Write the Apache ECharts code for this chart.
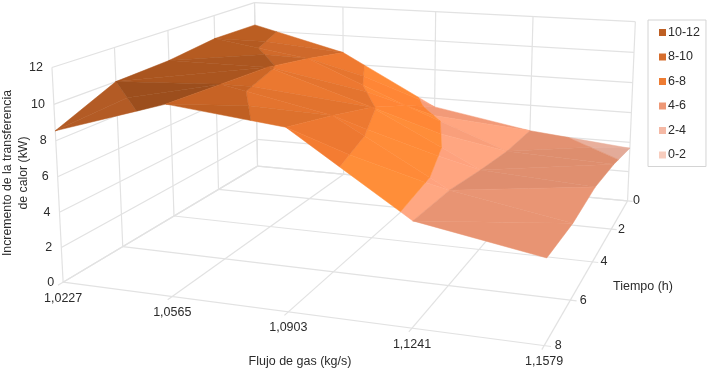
<!DOCTYPE html>
<html>
<head>
<meta charset="utf-8">
<style>html,body{margin:0;padding:0;background:#fff}#c{width:715px;height:373px}</style>
<script src="https://cdn.jsdelivr.net/npm/echarts@6/dist/echarts.min.js"></script>
</head>
<body>
<div id="c"></div>
<script>
// ---- data ----
const gasFlow = ['1,0227','1,0565','1,0903','1,1241','1,1579'];
const timeH = ['0','2','4','6','8'];
const zTicks = [0,2,4,6,8,10,12];
const t0h = [10.4, 8.8, 5.4, 4.25, 3.6];
const t2h = [10.45, 9.5, 6.85, 4.4, 4.15];
const t4h = [10.1, 10.1, 8.1, 4.85, 4.45];
const t6h = [10.0, 10.3, 9.0, 5.4, 4.25];
const t8h = [8.55, 10.5, 9.8, 5.6, 4.45];
const heat = [t0h, t2h, t4h, t6h, t8h];
const bandNames = ['10-12','8-10','6-8','4-6','2-4','0-2'];
const bandLow = [10,8,6,4,2,0];
const bandColors = ['#be5f23','#d66d2c','#ee7c32','#ee9876','#f5b9a5','#f8cdbe'];
const bandGain = [.95,.97,.975,.935,.93,1];

// ---- camera: view calibration of the box (u,v,w in 0..1) ----
const camera = [
 [0,1,0,64,282],[0,1,1,52,66],[1,1,0,543,346],[1,0,0,627,200],[1,0,1,636,22],[0,0,1,255,3],[0,0,0,258,165],
 [.25,1,0,173,297],[.5,1,0,288,312],[.75,1,0,412,329],[0,.75,0,123,247],[0,.5,0,173,217],[0,.25,0,218,190],
 [1,.75,0,570,300],[1,.5,0,592,262],[1,.25,0,613,228],[.25,0,1,343,8],[.5,0,1,435,12],[.75,0,1,533,17],
 [0,.75,1,115,47],[0,.5,1,168,30],[0,.25,1,213,15]];
function solve(A,b){const n=b.length;const M=A.map((r,i)=>r.concat(b[i]));
 for(let i=0;i<n;i++){let p=i;for(let k=i+1;k<n;k++)if(Math.abs(M[k][i])>Math.abs(M[p][i]))p=k;
  [M[i],M[p]]=[M[p],M[i]];
  for(let k=i+1;k<n;k++){const f=M[k][i]/M[i][i];for(let j=i;j<=n;j++)M[k][j]-=f*M[i][j];}}
 const x=new Array(n);for(let i=n-1;i>=0;i--){let s=M[i][n];for(let j=i+1;j<n;j++)s-=M[i][j]*x[j];x[i]=s/M[i][i];}
 return x;}
const P=(function(){const N=11;const A=[...Array(N)].map(()=>new Array(N).fill(0));const B=new Array(N).fill(0);
 function add(r,v){for(let i=0;i<N;i++){B[i]+=r[i]*v;for(let j=0;j<N;j++)A[i][j]+=r[i]*r[j];}}
 camera.forEach(([X,Y,Z,a,b])=>{add([X,Y,Z,1,0,0,0,0,-a*X,-a*Y,-a*Z],a);add([0,0,0,0,X,Y,Z,1,-b*X,-b*Y,-b*Z],b);});
 return solve(A,B);})();
// xi: gas index 0..4, ti: time index 0..4, z: kW
function project(xi,ti,z){const X=xi/4,Y=ti/4,Z=z/12;const w=P[8]*X+P[9]*Y+P[10]*Z+1;
 return [(P[0]*X+P[1]*Y+P[2]*Z+P[3])/w,(P[4]*X+P[5]*Y+P[6]*Z+P[7])/w];}

const FONT='"Liberation Sans", Arial, sans-serif';
const GRID='#e2e2e2';
function textEl(api,pt,text,dx,dy,opt){const c=api.coord(pt);opt=opt||{};
 return {type:'text',x:c[0]+dx,y:c[1]+dy,rotation:opt.rot||0,silent:true,style:{text:text,fontSize:opt.size||12.5,fontFamily:FONT,fill:opt.fill||'#2b2b2b',align:opt.align||'center',verticalAlign:'middle'}};}
function lineEl(api,a,b,stroke,w){const p=api.coord(a),q=api.coord(b);
 return {type:'line',silent:true,shape:{x1:p[0],y1:p[1],x2:q[0],y2:q[1]},style:{stroke:stroke||GRID,lineWidth:w||1.2}};}

function renderBox(params,api){const ch=[];
 zTicks.forEach(z=>{ // left and back walls
  ch.push(lineEl(api,project(0,4,z),project(0,0,z)));
  ch.push(lineEl(api,project(0,0,z),project(4,0,z)));
 });
 for(let i=0;i<5;i++){
  ch.push(lineEl(api,project(i,0,0),project(i,0,12)));   // back wall vertical
  ch.push(lineEl(api,project(0,i,0),project(0,i,12)));   // left wall vertical
  ch.push(lineEl(api,project(i,0,0),project(i,4.08,0))); // floor, with tick
  ch.push(lineEl(api,project(0,i,0),project(4.05,i,0))); // floor, with tick
 }
 zTicks.forEach(z=>{const p=project(0,4,z);ch.push(textEl(api,p,String(z),-9,0,{align:'right'}));});
 gasFlow.forEach((s,i)=>{const p=project(i,4,0);ch.push(textEl(api,p,s,0,16));});
 timeH.forEach((s,i)=>{const p=project(4,i,0);ch.push(textEl(api,p,s,9+i*1.3,0));});
 ch.push(textEl(api,[300,362],'Flujo de gas (kg/s)',0,0));
 ch.push(textEl(api,[643,287],'Tiempo (h)',0,0));
 ch.push(textEl(api,[8,173],'Incremento de la transferencia',0,0,{rot:Math.PI/2,size:12.3}));
 ch.push(textEl(api,[24,173],'de calor (kW)',0,0,{rot:Math.PI/2,size:12.3}));
 return {type:'group',children:ch};}

function clip(poly,f){const out=[];for(let i=0;i<poly.length;i++){const a=poly[i],b=poly[(i+1)%poly.length];
  const fa=f(a),fb=f(b);if(fa>=0)out.push(a);
  if((fa>=0)!==(fb>=0)){const s=fa/(fa-fb);out.push({x:a.x+(b.x-a.x)*s,t:a.t+(b.t-a.t)*s,z:a.z+(b.z-a.z)*s});}}
 return out;}
// facet lighting from the fall of the surface along the gas axis
function lit(s){return s<0?Math.max(.72,.95+.16*s):.95+.1*Math.min(s,1.5)+.03*Math.max(s-1.5,0);}
function columnFall(xi){let s=0;for(let r=0;r<5;r++)s+=heat[r][xi]-heat[r][xi+1];return s/5;}
function tint(hex,k){const n=parseInt(hex.slice(1),16);
 const c=[n>>16,(n>>8)&255,n&255].map(v=>Math.min(255,Math.round(v*k)));return 'rgb('+c.join(',')+')';}

function renderBand(b){return function(params,api){const ch=[];const lo=bandLow[b],hi=lo+2;
 for(let tb=0;tb<4;tb++)for(let xi=0;xi<4;xi++){
  const z00=heat[tb][xi],z10=heat[tb][xi+1],z01=heat[tb+1][xi],z11=heat[tb+1][xi+1];
  let quad=[{x:xi,t:tb,z:z00},{x:xi+1,t:tb,z:z10},{x:xi+1,t:tb+1,z:z11},{x:xi,t:tb+1,z:z01}];
  quad=clip(clip(quad,p=>p.z-lo),p=>hi-p.z);
  if(quad.length<3)continue;
  const sA=z00-z10,sB=z01-z11,sAvg=(sA+sB)/2;
  const base=.5*lit(columnFall(xi))+.5*lit(sAvg);
  [[1,sA],[-1,sB]].forEach(([sgn,s])=>{
   const part=clip(quad,p=>sgn*(1-((p.x-xi)+(p.t-tb))));
   if(part.length<3)return;
   const k=base+(sAvg>0?.06*(s-sAvg):0);
   const col=tint(bandColors[b],bandGain[b]*k);
   ch.push({type:'polygon',silent:true,shape:{points:part.map(p=>api.coord(project(p.x,p.t,p.z)))},
     style:{fill:col,stroke:col,lineWidth:.5}});
  });
 }
 return {type:'group',children:ch};};}

const series=[{type:'custom',name:'box',coordinateSystem:'cartesian2d',data:[[0,0]],renderItem:renderBox,silent:true,clip:false,z:1}];
[5,4,3,2,1,0].forEach(b=>series.push({type:'custom',name:bandNames[b],coordinateSystem:'cartesian2d',data:[[0,0]],
 renderItem:renderBand(b),silent:true,clip:false,z:2,itemStyle:{color:bandColors[b]}}));

const chart=echarts.init(document.getElementById('c'),null,{renderer:'canvas'});
chart.setOption({animation:false,backgroundColor:'#fff',tooltip:{show:false},
 grid:{left:0,top:0,width:715,height:373},
 xAxis:{type:'value',min:0,max:715,show:false},
 yAxis:{type:'value',min:0,max:373,inverse:true,show:false},
 legend:{left:648,top:20,orient:'vertical',data:bandNames.map(n=>({name:n,icon:'rect'})),selectedMode:false,
  itemWidth:7,itemHeight:7,itemGap:11.5,padding:[6,6,5,11],borderColor:'#d4d4d4',borderWidth:1,backgroundColor:'#fff',
  textStyle:{fontFamily:FONT,fontSize:12.5,color:'#2b2b2b',padding:[0,0,0,-3]}},
 series:series});
</script>
</body>
</html>
